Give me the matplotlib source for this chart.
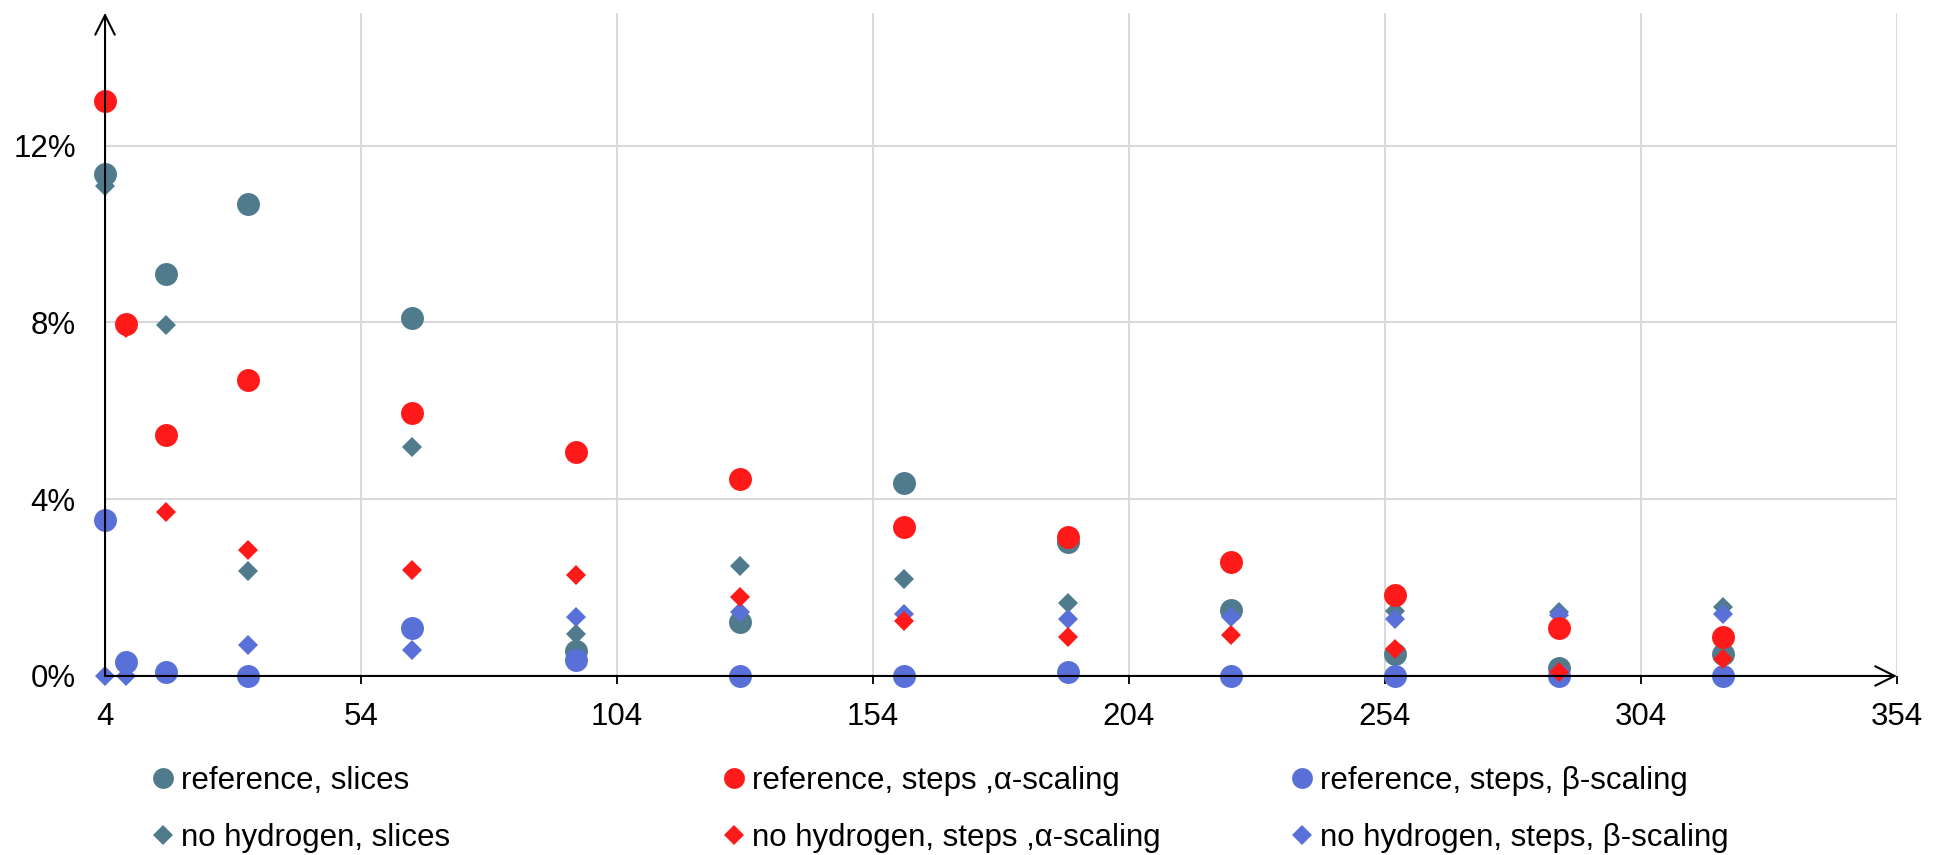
import numpy as np
import matplotlib.pyplot as plt
from matplotlib.ticker import PercentFormatter
from matplotlib.lines import Line2D

plt.rcParams['font.family'] = ['Liberation Sans', 'DejaVu Sans']

# x positions and error values (%)
x = np.array([4, 8, 16, 32, 64, 96, 128, 160, 192, 224, 256, 288, 320])
nan = np.nan
ref_slices = [11.35, nan, 9.09, 10.68, 8.09, 0.56, 1.23, 4.36, 3.02, 1.49, 0.49, 0.17, 0.50]
noh_slices = [11.08, nan, 7.93, 2.38, 5.18, 0.95, 2.49, 2.20, 1.66, nan, 1.47, 1.44, 1.56]
ref_alpha = [13.0, 7.97, 5.45, 6.70, 5.96, 5.07, 4.45, 3.36, 3.15, 2.57, 1.84, 1.09, 0.89]
noh_alpha = [nan, 7.88, 3.72, 2.86, 2.40, 2.28, 1.79, 1.25, 0.89, 0.93, 0.61, 0.10, 0.38]
ref_beta = [3.52, 0.32, 0.09, 0.0, 1.09, 0.36, 0.0, 0.0, 0.10, 0.0, 0.0, 0.0, 0.0]
noh_beta = [0.0, 0.0, nan, 0.70, 0.58, 1.34, 1.44, 1.41, 1.28, 1.34, 1.29, 1.38, 1.40]

xticks = [4, 54, 104, 154, 204, 254, 304, 354]
yticks = [0, 4, 8, 12]

teal = '#507b8c'
red = '#ff1a1a'
blue = '#5870d8'
fs = 22.5

fig = plt.figure(figsize=(19.45, 8.55), dpi=100)
ax = fig.add_axes([0.054, 0.2094, 0.9213, 0.7755])

circ = 16.5
dia = 10
# drawing order so overlaps look like the original
ax.plot(x, noh_slices, 'D', color=teal, ms=dia, mew=0, clip_on=False, zorder=3)
ax.plot(x, ref_slices, 'o', color=teal, ms=circ, mew=0, clip_on=False, zorder=3)
ax.plot(x, ref_beta, 'o', color=blue, ms=circ, mew=0, clip_on=False, zorder=3)
ax.plot(x, noh_beta, 'D', color=blue, ms=dia, mew=0, clip_on=False, zorder=3)
ax.plot(x, noh_alpha, 'D', color=red, ms=dia, mew=0, clip_on=False, zorder=3)
ax.plot(x, ref_alpha, 'o', color=red, ms=circ, mew=0, clip_on=False, zorder=3)

ax.set_xlim(4, 354)
ax.set_ylim(0, 15)
ax.set_xticks(xticks)
ax.set_yticks(yticks)
ax.yaxis.set_major_formatter(PercentFormatter(xmax=100, decimals=0))
ax.grid(True, color='#d9d9d9', lw=1.5)
ax.set_axisbelow(True)
for s in ax.spines.values():
    s.set_visible(False)
ax.tick_params(axis='x', length=6, width=1.3, color='black', pad=13, labelsize=fs)
ax.tick_params(axis='y', length=0, pad=21, labelsize=fs)
ax.xaxis.get_major_ticks()[0].tick1line.set_visible(False)

arrow = dict(arrowstyle='->,head_length=0.5,head_width=0.25', lw=1.5, color='black',
             mutation_scale=28, shrinkA=0, shrinkB=0)
ax.annotate('', xy=(1, 0), xytext=(0, 0), xycoords='axes fraction', arrowprops=arrow, zorder=4)
ax.annotate('', xy=(0, 1), xytext=(0, 0), xycoords='axes fraction', arrowprops=arrow, zorder=4)

columns = [
    [('o', teal, 'reference, slices'), ('D', teal, 'no hydrogen, slices')],
    [('o', red, 'reference, steps ,α-scaling'), ('D', red, 'no hydrogen, steps ,α-scaling')],
    [('o', blue, 'reference, steps, β-scaling'), ('D', blue, 'no hydrogen, steps, β-scaling')],
]
col_x = [0.0785, 0.372, 0.664]
for cx, col in zip(col_x, columns):
    handles = [Line2D([], [], ls='', marker=m, color=c, mew=0,
                      ms=15 if m == 'o' else 10) for m, c, _ in col]
    labels = [t for _, _, t in col]
    fig.legend(handles, labels, loc='upper left', bbox_to_anchor=(cx, 0.104),
               frameon=False, fontsize=fs, handlelength=0.65, handletextpad=0.25,
               labelspacing=0.86, borderpad=0, borderaxespad=0)

fig.savefig('out.png', dpi=100)
